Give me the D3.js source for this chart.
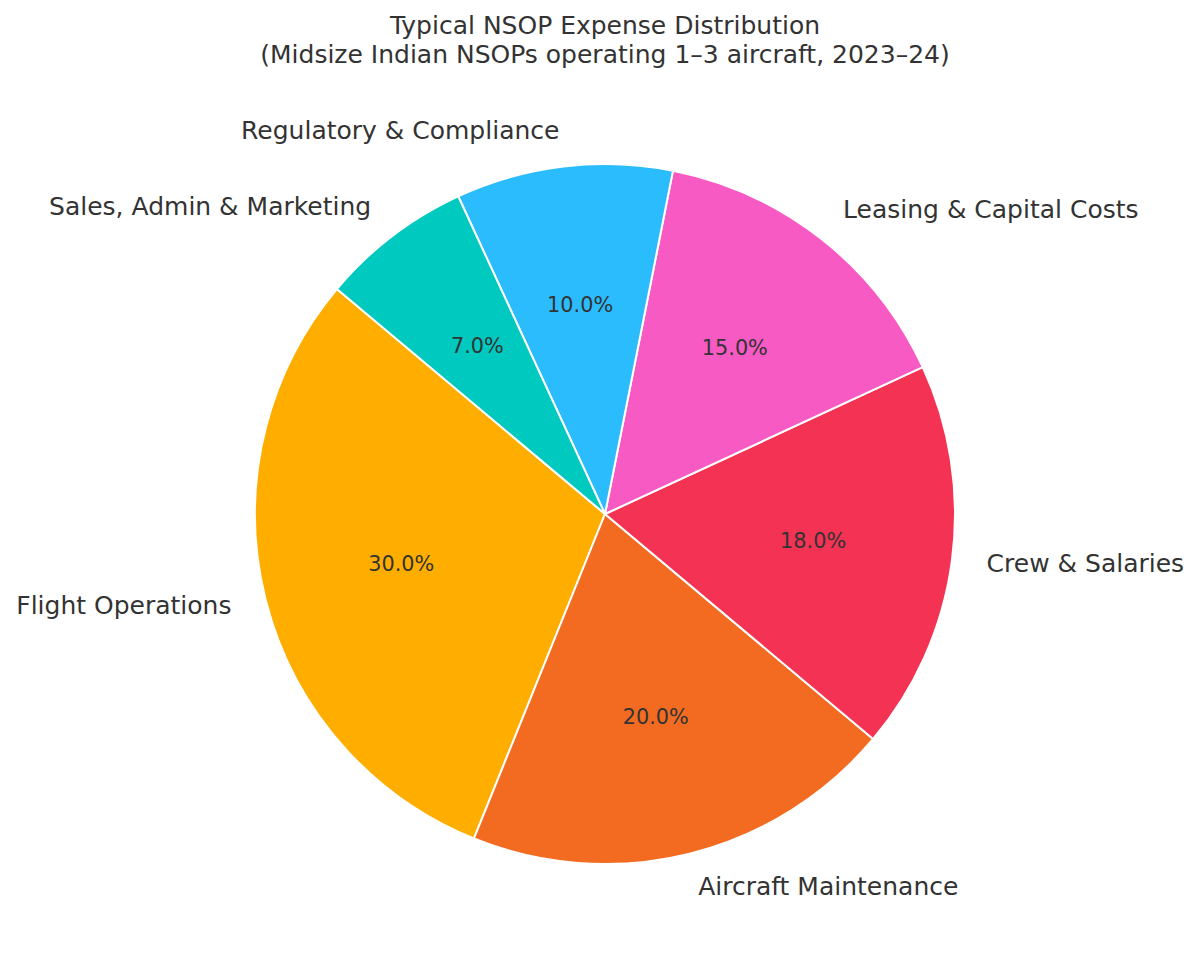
<!DOCTYPE html>
<html>
<head>
<meta charset="utf-8">
<script src="https://cdn.jsdelivr.net/npm/d3@7"></script>
<style>
  body { margin: 0; background: #fff; }
  text { font-family: "DejaVu Sans", sans-serif; fill: #333333; }
</style>
</head>
<body>
<div id="chart"></div>
<script>
const categories = ["Flight Operations", "Aircraft Maintenance", "Crew & Salaries",
  "Leasing & Capital Costs", "Regulatory & Compliance", "Sales, Admin & Marketing"];
const shares = [30, 20, 18, 15, 10, 7];
const colors = ["#FFAE00", "#F26B21", "#F43254", "#F75AC3", "#2BBCFD", "#00C9C0"];
const titleLines = ["Typical NSOP Expense Distribution",
  "(Midsize Indian NSOPs operating 1\u20133 aircraft, 2023\u201324)"];

const width = 1200, height = 967;
const cx = 605, cy = 514, radius = 350;

const svg = d3.select("#chart").append("svg")
  .attr("width", width)
  .attr("height", height);

// title
svg.append("g").selectAll("text")
  .data(titleLines)
  .join("text")
  .attr("x", cx)
  .attr("y", (d, i) => 25 + i * 29)
  .attr("dy", "0.35em")
  .attr("text-anchor", "middle")
  .attr("font-size", "25px")
  .text(d => d);

// matplotlib style: start at 140deg, counterclockwise
const start = (90 - 140) * Math.PI / 180;
const pie = d3.pie().sort(null)
  .startAngle(start)
  .endAngle(start - 2 * Math.PI);
const arcs = pie(shares);
const arc = d3.arc().innerRadius(0).outerRadius(radius);

const g = svg.append("g").attr("transform", `translate(${cx},${cy})`);

g.selectAll("path")
  .data(arcs)
  .join("path")
  .attr("d", arc)
  .attr("fill", (d, i) => colors[i])
  .attr("stroke", "#fff")
  .attr("stroke-width", 2)
  .attr("stroke-linejoin", "round");

function pos(d, k) {
  const m = (d.startAngle + d.endAngle) / 2;
  return [Math.sin(m) * radius * k, -Math.cos(m) * radius * k];
}

// category labels
g.selectAll("text.lbl")
  .data(arcs)
  .join("text")
  .attr("class", "lbl")
  .attr("x", d => pos(d, 1.1)[0])
  .attr("y", d => pos(d, 1.1)[1])
  .attr("dy", "0.28em")
  .attr("text-anchor", d => pos(d, 1.1)[0] > 0 ? "start" : "end")
  .attr("font-size", "25px")
  .text((d, i) => categories[i]);

// percentage labels
const total = d3.sum(shares);
g.selectAll("text.pct")
  .data(arcs)
  .join("text")
  .attr("class", "pct")
  .attr("x", d => pos(d, 0.6)[0])
  .attr("y", d => pos(d, 0.6)[1])
  .attr("dy", "0.3em")
  .attr("text-anchor", "middle")
  .attr("font-size", "20.8px")
  .text(d => (d.value / total * 100).toFixed(1) + "%");
</script>
</body>
</html>
